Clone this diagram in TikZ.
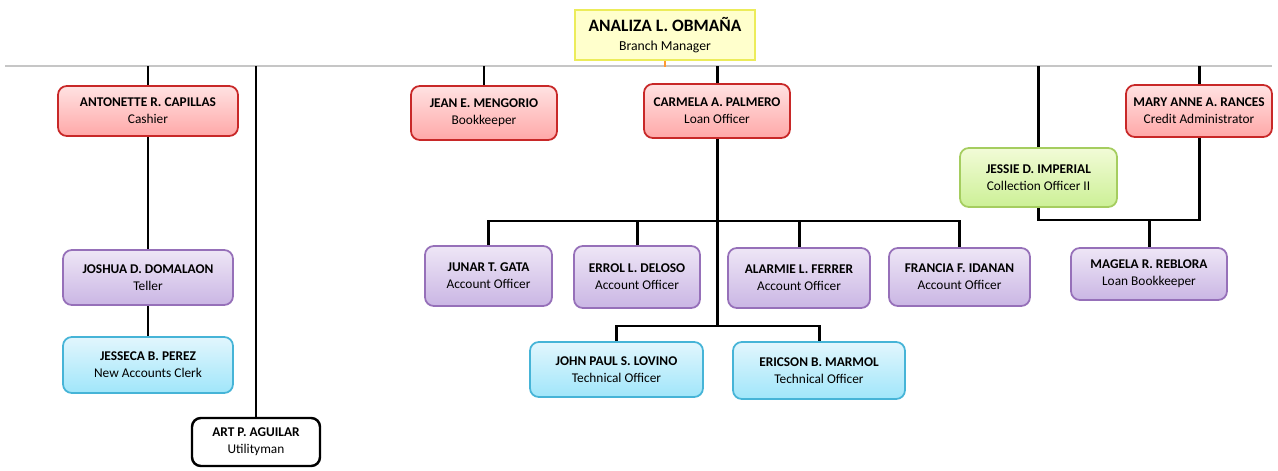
\documentclass[tikz,border=0pt]{standalone}
\usepackage{fontspec}
\setmainfont{Carlito}
\usetikzlibrary{positioning,calc}
\definecolor{boxyellow}{RGB}{255,255,204}
\definecolor{lineyellow}{RGB}{236,236,90}
\definecolor{redtop}{RGB}{255,226,226}
\definecolor{redbot}{RGB}{255,168,168}
\definecolor{redline}{RGB}{200,40,40}
\definecolor{purptop}{RGB}{238,230,246}
\definecolor{purpbot}{RGB}{202,182,228}
\definecolor{purpline}{RGB}{150,112,185}
\definecolor{cyantop}{RGB}{226,246,253}
\definecolor{cyanbot}{RGB}{160,230,250}
\definecolor{cyanline}{RGB}{70,180,215}
\definecolor{greentop}{RGB}{242,251,215}
\definecolor{greenbot}{RGB}{204,240,150}
\definecolor{greenline}{RGB}{165,205,95}

\begin{document}
\begin{tikzpicture}[x=0.02cm, y=-0.02cm,
  box/.style={rectangle, rounded corners=5pt, inner sep=0pt, align=center, font=\fontsize{7.6}{9.6}\selectfont, line width=1pt},
  redbox/.style={box, draw=redline, top color=redtop, bottom color=redbot},
  purpbox/.style={box, draw=purpline, top color=purptop, bottom color=purpbot},
  cyanbox/.style={box, draw=cyanline, top color=cyantop, bottom color=cyanbot},
  greenbox/.style={box, draw=greenline, top color=greentop, bottom color=greenbot},
  link/.style={draw, line width=1.7pt},
]
\useasboundingbox (0,0) rectangle (1278,470);
\draw[gray!45, line width=0.7pt] (5,66) -- (1272,66);
\coordinate (bar) at (0,66);
\coordinate (aobar) at (0,221);
\coordinate (tobar) at (0,326);
\coordinate (mbar) at (0,220);

\node[rectangle, draw=lineyellow, fill=boxyellow, line width=0.8pt, minimum width=3.6cm, minimum height=1cm, align=center] (boss) at (665,35) {{\fontsize{9.9}{11.5}\selectfont\textbf{ANALIZA L. OBMAÑA}}\\[-1pt]{\fontsize{7.8}{9}\selectfont Branch Manager}};
\draw[orange!80, line width=1.6pt] (boss.south) -- ++(0,6);

\node[redbox, minimum width=3.6cm, minimum height=1cm] (antonette) at (148,111) {\textbf{ANTONETTE R. CAPILLAS}\\Cashier};
\node[purpbox, minimum width=3.4cm, minimum height=1.1cm] (joshua) at (148,277.5) {\textbf{JOSHUA D. DOMALAON}\\Teller};
\node[cyanbox, minimum width=3.4cm, minimum height=1.12cm] (jesseca) at (148,365) {\textbf{JESSECA B. PEREZ}\\New Accounts Clerk};
\node[box, draw=black, fill=white, line width=1.4pt, minimum width=2.56cm, minimum height=0.96cm] (art) at (256,442) {\textbf{ART P. AGUILAR}\\Utilityman};
\node[redbox, minimum width=2.92cm, minimum height=1.08cm] (jean) at (484,113) {\textbf{JEAN E. MENGORIO}\\Bookkeeper};
\node[redbox, minimum width=2.92cm, minimum height=1.08cm] (carmela) at (717,111) {\textbf{CARMELA A. PALMERO}\\Loan Officer};
\node[purpbox, minimum width=2.54cm, minimum height=1.2cm] (junar) at (488.5,276) {\textbf{JUNAR T. GATA}\\Account Officer};
\node[purpbox, minimum width=2.52cm, minimum height=1.24cm] (errol) at (637,277) {\textbf{ERROL L. DELOSO}\\Account Officer};
\node[purpbox, minimum width=2.84cm, minimum height=1.2cm] (alarmie) at (799,278) {\textbf{ALARMIE L. FERRER}\\Account Officer};
\node[purpbox, minimum width=2.82cm, minimum height=1.16cm] (francia) at (959.5,277) {\textbf{FRANCIA F. IDANAN}\\Account Officer};
\node[cyanbox, minimum width=3.46cm, minimum height=1.1cm] (john) at (616.5,369.5) {\textbf{JOHN PAUL S. LOVINO}\\Technical Officer};
\node[cyanbox, minimum width=3.44cm, minimum height=1.14cm] (ericson) at (819,370.5) {\textbf{ERICSON B. MARMOL}\\Technical Officer};
\node[greenbox, minimum width=3.14cm, minimum height=1.18cm] (jessie) at (1038.5,177.5) {\textbf{JESSIE D. IMPERIAL}\\Collection Officer II};
\node[redbox, minimum width=2.92cm, minimum height=1.04cm] (mary) at (1199,111) {\textbf{MARY ANNE A. RANCES}\\Credit Administrator};
\node[purpbox, minimum width=3.12cm, minimum height=1.04cm] (magela) at (1149,274) {\textbf{MAGELA R. REBLORA}\\Loan Bookkeeper};

\draw[link] (antonette.north) -- (antonette.north |- bar);
\draw[link] (art.north) -- (art.north |- bar);
\draw[link] (jean.north) -- (jean.north |- bar);
\draw[link] (carmela.north) -- (carmela.north |- bar);
\draw[link] (jessie.north) -- (jessie.north |- bar);
\draw[link] (mary.north) -- (mary.north |- bar);
\draw[link] (antonette.south) -- (joshua.north);
\draw[link] (joshua.south) -- (jesseca.north);
\draw[link] (carmela.south) -- (carmela.south |- tobar);
\draw[link] (junar.north) -- (junar.north |- aobar) -- (francia.north |- aobar) -- (francia.north);
\draw[link] (errol.north) -- (errol.north |- aobar);
\draw[link] (alarmie.north) -- (alarmie.north |- aobar);
\draw[link] (john.north) -- (john.north |- tobar) -- (ericson.north |- tobar) -- (ericson.north);
\draw[link] (jessie.south) -- (jessie.south |- mbar) -- (mary.south |- mbar) -- (mary.south);
\draw[link] (magela.north) -- (magela.north |- mbar);
\end{tikzpicture}
\end{document}
